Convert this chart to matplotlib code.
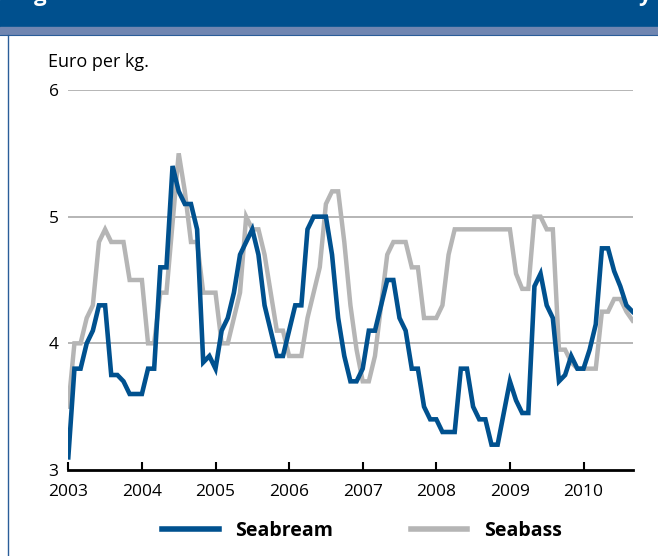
import numpy as np
import matplotlib.pyplot as plt
from matplotlib.patches import Rectangle
from matplotlib.lines import Line2D

plt.rcParams['font.family'] = ['Open Sans', 'DejaVu Sans']

# monthly prices, Jan 2003 - Sep 2010
start_year = 2003
seabream = [3.1, 3.8, 3.8, 4.0, 4.1, 4.3, 4.3, 3.75, 3.75, 3.7, 3.6, 3.6,
            3.6, 3.8, 3.8, 4.6, 4.6, 5.4, 5.2, 5.1, 5.1, 4.9, 3.85, 3.9,
            3.8, 4.1, 4.2, 4.4, 4.7, 4.8, 4.9, 4.7, 4.3, 4.1, 3.9, 3.9,
            4.1, 4.3, 4.3, 4.9, 5.0, 5.0, 5.0, 4.7, 4.2, 3.9, 3.7, 3.7,
            3.8, 4.1, 4.1, 4.3, 4.5, 4.5, 4.2, 4.1, 3.8, 3.8, 3.5, 3.4,
            3.4, 3.3, 3.3, 3.3, 3.8, 3.8, 3.5, 3.4, 3.4, 3.2, 3.2, 3.45,
            3.7, 3.55, 3.45, 3.45, 4.45, 4.55, 4.3, 4.2, 3.7, 3.75, 3.9, 3.8,
            3.8, 3.95, 4.15, 4.75, 4.75, 4.57, 4.45, 4.3, 4.25]
seabass = [3.5, 4.0, 4.0, 4.2, 4.3, 4.8, 4.9, 4.8, 4.8, 4.8, 4.5, 4.5,
           4.5, 4.0, 4.0, 4.4, 4.4, 4.95, 5.5, 5.2, 4.8, 4.8, 4.4, 4.4,
           4.4, 4.0, 4.0, 4.2, 4.4, 5.0, 4.9, 4.9, 4.7, 4.4, 4.1, 4.1,
           3.9, 3.9, 3.9, 4.2, 4.4, 4.6, 5.1, 5.2, 5.2, 4.8, 4.3, 3.95,
           3.7, 3.7, 3.9, 4.3, 4.7, 4.8, 4.8, 4.8, 4.6, 4.6, 4.2, 4.2,
           4.2, 4.3, 4.7, 4.9, 4.9, 4.9, 4.9, 4.9, 4.9, 4.9, 4.9, 4.9,
           4.9, 4.55, 4.43, 4.43, 5.0, 5.0, 4.9, 4.9, 3.95, 3.95, 3.85, 3.8,
           3.8, 3.8, 3.8, 4.25, 4.25, 4.35, 4.35, 4.25, 4.18]
years = list(range(2003, 2011))
yticks = [3, 4, 5, 6]

blue = '#00518f'
grey = '#b5b5b5'

W, H = 658, 556
fig = plt.figure(figsize=(W / 100, H / 100), dpi=100)

# header banner
fig.patches.append(Rectangle((0, 1 - 27 / H), 1, 27 / H, transform=fig.transFigure,
                             color='#00508e', zorder=0))
fig.patches.append(Rectangle((0, 1 - 34 / H), 1, 7 / H, transform=fig.transFigure,
                             color='#7086b1', zorder=0))
fig.lines.append(Line2D([0, 1], [1 - 34.5 / H] * 2, transform=fig.transFigure,
                        color='#2a5d99', lw=0.8))
fig.lines.append(Line2D([7.5 / W] * 2, [0, 1 - 35 / H], transform=fig.transFigure,
                        color='#2a5d99', lw=1.0))
# cut-off title descenders
fig.text(34 / W, 1 - 0.5 / H, 'g', color='white', fontsize=16, fontweight='bold', va='baseline')
fig.text(638 / W, 1 - 0.5 / H, 'y', color='white', fontsize=16, fontweight='bold', va='baseline')

ax = fig.add_axes([68.3 / W, 1 - 470 / H, (633 - 68.3) / W, (470 - 90) / H])
x = start_year + np.arange(len(seabream)) / 12.0
ax.plot(x, seabass, color=grey, lw=3.2, solid_joinstyle='miter', label='Seabass', zorder=3)
ax.plot(x, seabream, color=blue, lw=3.3, solid_joinstyle='miter', label='Seabream', zorder=4)

ax.set_xlim(2003, 2003 + (633 - 68.3) / 73.6)
ax.set_ylim(3, 6)
ax.set_yticks(yticks)
ax.set_xticks(years)
ax.set_xticklabels([str(y) for y in years])
for v in yticks[1:]:
    ax.axhline(v, color='#b0b0b0', lw=1.3, zorder=1)

for s in ['top', 'right', 'left']:
    ax.spines[s].set_visible(False)
ax.spines['bottom'].set_linewidth(2)
ax.spines['bottom'].set_zorder(5)
ax.tick_params(axis='x', direction='in', length=6, width=1.5, labelsize=12.5, pad=10)
ax.tick_params(axis='y', length=0, labelsize=12.5, pad=7)

fig.text(48 / W, 1 - 62 / H, 'Euro per kg.', fontsize=13, va='center', ha='left')

h, l = ax.get_legend_handles_labels()
leg = fig.legend(h[::-1], l[::-1], loc='center', bbox_to_anchor=(362 / W, 1 - 531 / H),
                 ncol=2, frameon=False, handlelength=2.9, columnspacing=4.0,
                 handletextpad=0.85, prop={'weight': 'bold', 'size': 14})
for line in leg.get_lines():
    line.set_linewidth(4)

fig.savefig('out.png', dpi=100)
